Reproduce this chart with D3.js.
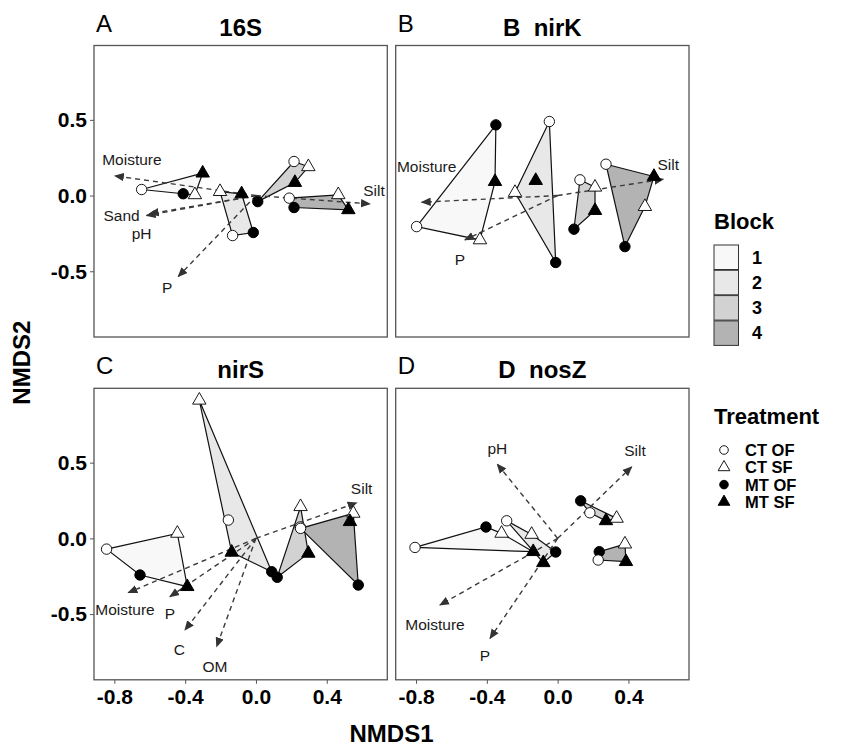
<!DOCTYPE html>
<html>
<head>
<meta charset="utf-8">
<script src="https://cdn.jsdelivr.net/npm/d3@7"></script>
<style>
  body { margin: 0; background: #fff; }
  svg text { font-family: "Liberation Sans", Arial, sans-serif; white-space: pre; }
</style>
</head>
<body>
<svg id="chart" width="844" height="749"></svg>
<script>
// NMDS ordination, 4 genes, hull per block + envfit vectors

const blocks = ["1", "2", "3", "4"]
const treatments = ["CT OF", "CT SF", "MT OF", "MT SF"]
const xTicks = [-0.8, -0.4, 0.0, 0.4]
const yTicks = [-0.5, 0.0, 0.5]

// [block, treatment, NMDS1, NMDS2]
const pts16S = [
  [1, "CT OF", -0.646, 0.040], [1, "MT OF", -0.411, 0.012], [1, "CT SF", -0.345, 0.005], [1, "MT SF", -0.301, 0.148],
  [2, "CT SF", -0.203, 0.026], [2, "MT SF", -0.081, 0.011], [2, "MT OF", -0.015, -0.244], [2, "CT OF", -0.132, -0.264],
  [3, "MT OF", 0.010, -0.040], [3, "CT OF", 0.215, 0.225], [3, "CT SF", 0.296, 0.190], [3, "MT SF", 0.220, 0.086],
  [4, "CT OF", 0.188, -0.017], [4, "MT OF", 0.215, -0.079], [4, "MT SF", 0.522, -0.094], [4, "CT SF", 0.465, 0.005]
]
const ptsNirK = [
  [1, "CT OF", -0.797, -0.205], [1, "MT OF", -0.349, 0.467], [1, "MT SF", -0.354, 0.092], [1, "CT SF", -0.439, -0.293],
  [2, "CT OF", -0.047, 0.489], [2, "CT SF", -0.241, 0.020], [2, "MT OF", -0.011, -0.442], [2, "MT SF", -0.124, 0.099],
  [3, "CT OF", 0.126, 0.104], [3, "CT SF", 0.211, 0.055], [3, "MT SF", 0.211, -0.099], [3, "MT OF", 0.092, -0.222],
  [4, "CT OF", 0.273, 0.207], [4, "MT SF", 0.544, 0.126], [4, "CT SF", 0.493, -0.073], [4, "MT OF", 0.380, -0.337]
]
const ptsNirS = [
  [1, "CT OF", -0.844, -0.071], [1, "CT SF", -0.444, 0.033], [1, "MT SF", -0.388, -0.319], [1, "MT OF", -0.655, -0.242],
  [2, "CT SF", -0.320, 0.912], [2, "CT OF", -0.156, 0.121], [2, "MT SF", -0.137, -0.092], [2, "MT OF", 0.089, -0.220],
  [3, "MT OF", 0.120, -0.257], [3, "CT SF", 0.252, 0.209], [3, "MT SF", 0.296, -0.099], [3, "CT OF", 0.250, 0.075],
  [4, "CT OF", 0.252, 0.066], [4, "CT SF", 0.550, 0.165], [4, "MT SF", 0.531, 0.110], [4, "MT OF", 0.578, -0.308]
]
const ptsNosZ = [
  [1, "CT OF", -0.806, -0.060], [1, "MT OF", -0.405, 0.075], [1, "MT SF", -0.138, -0.088], [1, "CT SF", -0.317, 0.033],
  [2, "CT OF", -0.288, 0.116], [2, "CT SF", -0.147, 0.026], [2, "MT OF", -0.011, -0.090], [2, "MT SF", -0.081, -0.161],
  [3, "MT OF", 0.130, 0.248], [3, "CT OF", 0.182, 0.169], [3, "MT SF", 0.273, 0.116], [3, "CT SF", 0.333, 0.132],
  [4, "MT OF", 0.235, -0.088], [4, "CT OF", 0.229, -0.143], [4, "MT SF", 0.386, -0.154], [4, "CT SF", 0.380, -0.038]
]

// [variable, arrow NMDS1, arrow NMDS2, label NMDS1, label NMDS2]
const env16S = [
  ["Moisture", -0.797, 0.130, -0.701, 0.240],
  ["Sand", -0.618, -0.132, -0.759, -0.132],
  ["pH", -0.600, -0.120, -0.646, -0.248],
  ["P", -0.439, -0.535, -0.501, -0.605],
  ["Silt", 0.644, -0.055, 0.667, 0.033]
]
const envNirK = [
  ["Moisture", -0.768, -0.044, -0.740, 0.190],
  ["P", -0.524, -0.293, -0.552, -0.425],
  ["Silt", 0.597, 0.108, 0.625, 0.203]
]
const envNirS = [
  ["Silt", 0.569, 0.235, 0.597, 0.330],
  ["Moisture", -0.721, -0.359, -0.740, -0.473],
  ["P", -0.486, -0.385, -0.486, -0.495],
  ["C", -0.401, -0.605, -0.433, -0.737],
  ["OM", -0.222, -0.715, -0.232, -0.847]
]
const envNosZ = [
  ["pH", -0.341, 0.490, -0.341, 0.594],
  ["Silt", 0.418, 0.472, 0.437, 0.582],
  ["Moisture", -0.665, -0.440, -0.693, -0.572],
  ["P", -0.382, -0.660, -0.411, -0.776]
]

const panelLetters = ["A", "B", "C", "D"]
const panelTitles = ["16S", "B  nirK", "nirS", "D  nosZ"]
const panelPts = [pts16S, ptsNirK, ptsNirS, ptsNosZ]
const panelEnv = [env16S, envNirK, envNirS, envNosZ]

const blockFill = d3.scaleOrdinal().domain(blocks).range(["#f8f8f8", "#e8e8e8", "#d2d2d2", "#b3b3b3"])

const svg = d3.select("#chart")
const pw = 293.3, ph = 291.5
const colX = [94, 395.7], rowY = [45.5, 388.3]

const x = d3.scaleLinear().domain([-0.915, 0.742]).range([0, pw])
const y = d3.scaleLinear().domain([-0.934, 0.991]).range([ph, 0])

svg.append("defs").append("marker")
  .attr("id", "head")
  .attr("viewBox", "0 0 10 10")
  .attr("refX", 9).attr("refY", 5)
  .attr("markerWidth", 10).attr("markerHeight", 10)
  .attr("markerUnits", "userSpaceOnUse")
  .attr("orient", "auto")
  .append("path").attr("d", "M0,0.8 L10,5 L0,9.2 Z").attr("fill", "#333")

const tri = d3.symbol().type(d3.symbolTriangle).size(78)
const fmt = d => d.toFixed(1)

panelTitles.forEach((title, i) => {
  const col = i % 2, row = Math.floor(i / 2)
  const g = svg.append("g").attr("transform", `translate(${colX[col]},${rowY[row]})`)

  // letter + title
  g.append("text").attr("x", 2).attr("y", -14).attr("font-size", 24).text(panelLetters[i])
  g.append("text").attr("x", pw / 2).attr("y", -10).attr("text-anchor", "middle")
    .attr("font-size", 24).attr("font-weight", "bold").text(title)

  const pts = panelPts[i].map(d => ({ block: String(d[0]), trt: d[1], x: d[2], y: d[3] }))

  // hull per block
  blocks.forEach(b => {
    const hull = d3.polygonHull(pts.filter(p => p.block === b).map(p => [x(p.x), y(p.y)]))
    g.append("path")
      .attr("d", "M" + hull.join("L") + "Z")
      .attr("fill", blockFill(b))
      .attr("stroke", "#111").attr("stroke-width", 1.2)
  })

  // env vectors
  const env = panelEnv[i]
  g.selectAll(".vec").data(env).enter().append("line")
    .attr("x1", x(0)).attr("y1", y(0))
    .attr("x2", d => x(d[1])).attr("y2", d => y(d[2]))
    .attr("stroke", "#3a3a3a").attr("stroke-width", 1.4)
    .attr("stroke-dasharray", "5,4")
    .attr("marker-end", "url(#head)")
  g.selectAll(".lab").data(env).enter().append("text")
    .attr("x", d => x(d[3])).attr("y", d => y(d[4]))
    .attr("text-anchor", "middle").attr("dominant-baseline", "central")
    .attr("font-size", 15.5).attr("fill", "#1a1a1a")
    .text(d => d[0])

  // points
  pts.forEach(p => {
    const filled = p.trt.startsWith("MT")
    if (p.trt.endsWith("OF")) {
      g.append("circle").attr("cx", x(p.x)).attr("cy", y(p.y)).attr("r", 5.2)
        .attr("fill", filled ? "#000" : "#fff").attr("stroke", "#000").attr("stroke-width", filled ? 1 : 0.9)
    } else {
      g.append("path").attr("d", tri).attr("transform", `translate(${x(p.x)},${y(p.y)})`)
        .attr("fill", filled ? "#000" : "#fff").attr("stroke", "#000").attr("stroke-width", filled ? 1 : 0.9)
    }
  })

  // frame
  g.append("rect").attr("width", pw).attr("height", ph)
    .attr("fill", "none").attr("stroke", "#555").attr("stroke-width", 1.3)

  // axes only on outer panels
  if (col === 0) {
    const ax = g.append("g").call(d3.axisLeft(y).tickValues(yTicks).tickFormat(fmt).tickSize(4).tickPadding(3))
    ax.select(".domain").remove()
    ax.selectAll("line").attr("stroke", "#555")
    ax.selectAll("text").attr("font-size", 21).attr("font-weight", "bold").attr("fill", "#000")
      .attr("font-family", "Liberation Sans, Arial, sans-serif")
  }
  if (row === 1) {
    const ax = g.append("g").attr("transform", `translate(0,${ph})`)
      .call(d3.axisBottom(x).tickValues(xTicks).tickFormat(fmt).tickSize(4).tickPadding(5))
    ax.select(".domain").remove()
    ax.selectAll("line").attr("stroke", "#555")
    ax.selectAll("text").attr("font-size", 21).attr("font-weight", "bold").attr("fill", "#000")
      .attr("font-family", "Liberation Sans, Arial, sans-serif")
  }
})

// axis titles
svg.append("text").attr("x", (colX[0] + colX[1] + pw) / 2).attr("y", 742)
  .attr("text-anchor", "middle").attr("font-size", 24).attr("font-weight", "bold").text("NMDS1")
svg.append("text").attr("transform", `translate(30,${(rowY[0] + rowY[1] + ph) / 2}) rotate(-90)`)
  .attr("text-anchor", "middle").attr("font-size", 24).attr("font-weight", "bold").text("NMDS2")

// legend: Block
const lg = svg.append("g").attr("transform", "translate(714,0)")
lg.append("text").attr("x", 0).attr("y", 229).attr("font-size", 22).attr("font-weight", "bold").text("Block")
lg.selectAll(".bk").data(blocks).enter().append("rect")
  .attr("x", 0).attr("y", (d, i) => 245 + i * 25.3).attr("width", 24.5).attr("height", 24.5)
  .attr("fill", d => blockFill(d)).attr("stroke", "#333").attr("stroke-width", 1)
lg.selectAll(".bl").data(blocks).enter().append("text")
  .attr("x", 38).attr("y", (d, i) => 257.5 + i * 25.3).attr("dominant-baseline", "central")
  .attr("font-size", 18).attr("font-weight", "bold").text(d => d)

// legend: Treatment
lg.append("text").attr("x", 0).attr("y", 424).attr("font-size", 22).attr("font-weight", "bold").text("Treatment")
const legTri = d3.symbol().type(d3.symbolTriangle).size(60)
treatments.forEach((t, i) => {
  const cy = 450 + i * 17.3
  const filled = t.startsWith("MT")
  if (t.endsWith("OF")) {
    lg.append("circle").attr("cx", 10).attr("cy", cy).attr("r", 4.3)
      .attr("fill", filled ? "#000" : "#fff").attr("stroke", "#000").attr("stroke-width", 0.9)
  } else {
    lg.append("path").attr("d", legTri).attr("transform", `translate(10,${cy})`)
      .attr("fill", filled ? "#000" : "#fff").attr("stroke", "#000").attr("stroke-width", 0.9)
  }
  lg.append("text").attr("x", 31).attr("y", cy).attr("dominant-baseline", "central")
    .attr("font-size", 16.5).attr("font-weight", "bold").text(t)
})
</script>
</body>
</html>
